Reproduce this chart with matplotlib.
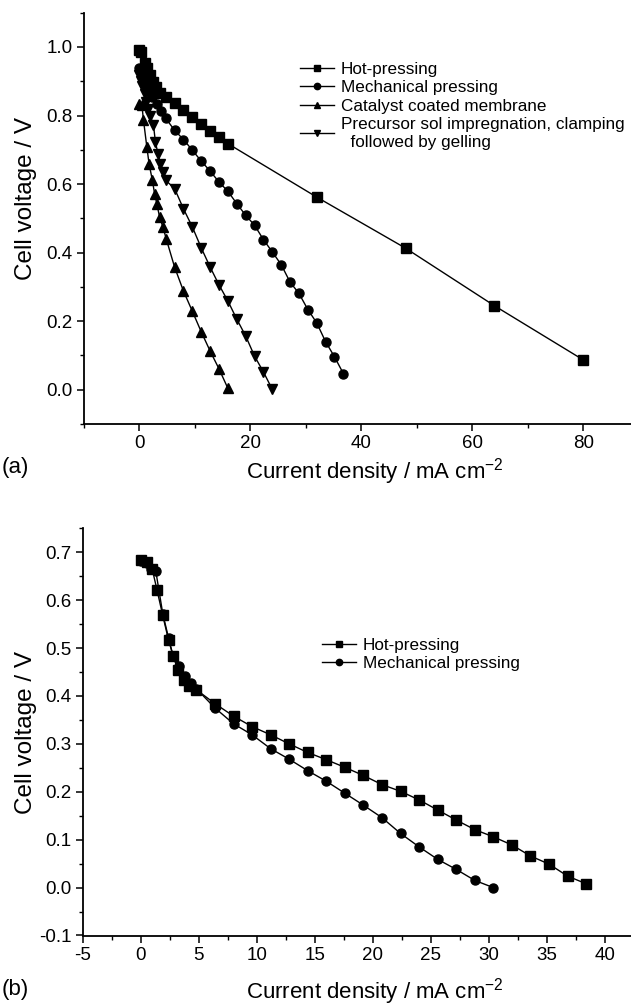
import matplotlib
matplotlib.use("Agg")
import matplotlib.pyplot as plt
from matplotlib.ticker import MultipleLocator

plt.rcParams['font.family'] = ['Liberation Sans', 'DejaVu Sans']
plt.rcParams['axes.unicode_minus'] = False
plt.rcParams['mathtext.fontset'] = 'custom'
plt.rcParams['mathtext.rm'] = 'Liberation Sans'
plt.rcParams['mathtext.it'] = 'Liberation Sans:italic'

# ---------------- Panel (a) data ----------------
hp_a_x = [0.0, 0.4, 1.0, 1.5, 2.0, 2.6, 3.1, 3.7, 4.8, 6.4, 8.0, 9.6, 11.2, 12.8, 14.4, 16.0, 32.0, 48.0, 64.0, 80.0]
hp_a_y = [0.991, 0.984, 0.954, 0.938, 0.918, 0.899, 0.882, 0.866, 0.855, 0.837, 0.816, 0.796, 0.775, 0.755, 0.736, 0.718, 0.562, 0.413, 0.245, 0.087]

mp_a_x = [0.0, 0.4, 0.8, 1.2, 1.6, 2.0, 2.4, 3.2, 4.0, 4.8, 6.4, 8.0, 9.6, 11.2, 12.8, 14.4, 16.0, 17.6, 19.2, 20.8,
          22.4, 24.0, 25.6, 27.2, 28.8, 30.4, 32.0, 33.6, 35.2, 36.8]
mp_a_y = [0.938, 0.930, 0.915, 0.900, 0.885, 0.870, 0.855, 0.835, 0.812, 0.792, 0.757, 0.730, 0.699, 0.667, 0.638,
          0.606, 0.579, 0.543, 0.509, 0.480, 0.438, 0.402, 0.365, 0.314, 0.281, 0.234, 0.195, 0.140, 0.096, 0.047]

ccm_a_x = [0.0, 0.5, 0.8, 1.4, 1.8, 2.4, 2.8, 3.2, 3.7, 4.3, 4.9, 6.4, 8.0, 9.6, 11.2, 12.8, 14.4, 16.0]
ccm_a_y = [0.835, 0.832, 0.787, 0.709, 0.660, 0.611, 0.572, 0.543, 0.504, 0.475, 0.440, 0.358, 0.288, 0.229, 0.169,
           0.113, 0.061, 0.004]

psi_a_x = [0.0, 0.3, 0.6, 1.0, 1.3, 1.6, 2.0, 2.6, 2.95, 3.4, 3.85, 4.3, 4.8, 6.4, 8.0, 9.6, 11.2, 12.8, 14.4, 16.0,
           17.6, 19.2, 20.8, 22.4, 24.0]
psi_a_y = [0.918, 0.900, 0.885, 0.862, 0.840, 0.820, 0.800, 0.772, 0.723, 0.689, 0.660, 0.635, 0.611, 0.587, 0.528,
           0.475, 0.414, 0.358, 0.306, 0.259, 0.206, 0.157, 0.098, 0.052, 0.001]

labels_a = ["Hot-pressing", "Mechanical pressing", "Catalyst coated membrane",
            "Precursor sol impregnation, clamping\n  followed by gelling"]

# ---------------- Panel (b) data ----------------
hp_b_x = [0.0, 0.5, 1.0, 1.4, 1.9, 2.4, 2.8, 3.2, 3.7, 4.2, 4.8, 6.4, 8.0, 9.6, 11.2, 12.8, 14.4, 16.0, 17.6, 19.2,
          20.8, 22.4, 24.0, 25.6, 27.2, 28.8, 30.4, 32.0, 33.6, 35.2, 36.8, 38.4]
hp_b_y = [0.683, 0.680, 0.664, 0.622, 0.568, 0.517, 0.483, 0.455, 0.434, 0.421, 0.413, 0.384, 0.358, 0.336, 0.319,
          0.300, 0.282, 0.267, 0.251, 0.234, 0.215, 0.201, 0.183, 0.162, 0.141, 0.121, 0.106, 0.089, 0.066, 0.049,
          0.024, 0.008]

mp_b_x = [0.0, 0.5, 0.9, 1.3, 1.9, 2.4, 2.8, 3.3, 3.8, 4.3, 4.8, 6.4, 8.0, 9.6, 11.2, 12.8, 14.4, 16.0, 17.6, 19.2,
          20.8, 22.4, 24.0, 25.6, 27.2, 28.8, 30.4]
mp_b_y = [0.681, 0.678, 0.664, 0.661, 0.572, 0.521, 0.483, 0.462, 0.441, 0.427, 0.415, 0.375, 0.342, 0.319, 0.290,
          0.268, 0.244, 0.222, 0.197, 0.172, 0.146, 0.113, 0.085, 0.059, 0.038, 0.015, 0.000]

labels_b = ["Hot-pressing", "Mechanical pressing"]

W, H = 631, 1007
fig = plt.figure(figsize=(W / 100, H / 100), dpi=100)


def px_axes(left, top, right, bottom):
    return fig.add_axes([left / W, 1 - bottom / H, (right - left) / W, (bottom - top) / H])


def style(ax):
    for s in ['top', 'right']:
        ax.spines[s].set_visible(False)
    for s in ['left', 'bottom']:
        ax.spines[s].set_linewidth(1.3)
    ax.tick_params(which='major', direction='out', length=5, width=1.1, labelsize=13.5, pad=3)
    ax.tick_params(which='minor', direction='out', length=3, width=1.0)
    ax.set_xlabel("Current density / mA cm$^{-2}$", fontsize=16)
    ax.set_ylabel("Cell voltage / V", fontsize=17.5)


kw = dict(color='black', lw=1.0, markersize=6.5)
legkw = dict(frameon=False, fontsize=12.3, handlelength=2.0, handletextpad=0.4, labelspacing=0.2,
             borderaxespad=0, borderpad=0, markerscale=0.7)

# ---------- (a) ----------
L, T, R, B = 83.5, 12.7, 638.8, 424
axa = px_axes(L, T, R, B)
axa.plot(hp_a_x, hp_a_y, marker='s', label=labels_a[0], **kw)
axa.plot(mp_a_x, mp_a_y, marker='o', label=labels_a[1], **kw)
axa.plot(ccm_a_x, ccm_a_y, marker='^', label=labels_a[2], **kw)
axa.plot(psi_a_x, psi_a_y, marker='v', label=labels_a[3], **kw)
axa.set_xlim(-10, 90)
axa.set_ylim(-0.1, 1.1)
axa.set_xticks([0, 20, 40, 60, 80])
axa.xaxis.set_minor_locator(MultipleLocator(10))
axa.set_yticks([0.0, 0.2, 0.4, 0.6, 0.8, 1.0])
axa.yaxis.set_minor_locator(MultipleLocator(0.1))
axa.yaxis.set_major_formatter(plt.FormatStrFormatter('%.1f'))
style(axa)
axa.xaxis.set_label_coords((375 - L) / (R - L), -(456 - B) / (B - T))
axa.yaxis.set_label_coords(-(L - 37) / (R - L), (B - 198) / (B - T))
axa.legend(loc='upper left', bbox_to_anchor=((300 - L) / (R - L), 1 - (62 - T) / (B - T)), **legkw)
fig.text(2 / W, 1 - 467 / H, "(a)", fontsize=16, va='center', ha='left')

# ---------- (b) ----------
L, T, R, B = 82.7, 528.3, 662.7, 935.5
axb = px_axes(L, T, R, B)
axb.plot(hp_b_x, hp_b_y, marker='s', label=labels_b[0], **kw)
axb.plot(mp_b_x, mp_b_y, marker='o', label=labels_b[1], **kw)
axb.set_xlim(-5, 45)
axb.set_ylim(-0.1, 0.75)
axb.set_xticks(list(range(-5, 45, 5)))
axb.xaxis.set_minor_locator(MultipleLocator(2.5))
axb.set_yticks([-0.1, 0.0, 0.1, 0.2, 0.3, 0.4, 0.5, 0.6, 0.7])
axb.yaxis.set_minor_locator(MultipleLocator(0.05))
axb.yaxis.set_major_formatter(plt.FormatStrFormatter('%.1f'))
style(axb)
axb.xaxis.set_label_coords((375 - L) / (R - L), -(976 - B) / (B - T))
axb.yaxis.set_label_coords(-(L - 37) / (R - L), (B - 732) / (B - T))
axb.legend(loc='upper left', bbox_to_anchor=((322 - L) / (R - L), 1 - (638 - T) / (B - T)), **legkw)
fig.text(2 / W, 1 - 990 / H, "(b)", fontsize=16, va='center', ha='left')

fig.savefig("out.png", dpi=100)
